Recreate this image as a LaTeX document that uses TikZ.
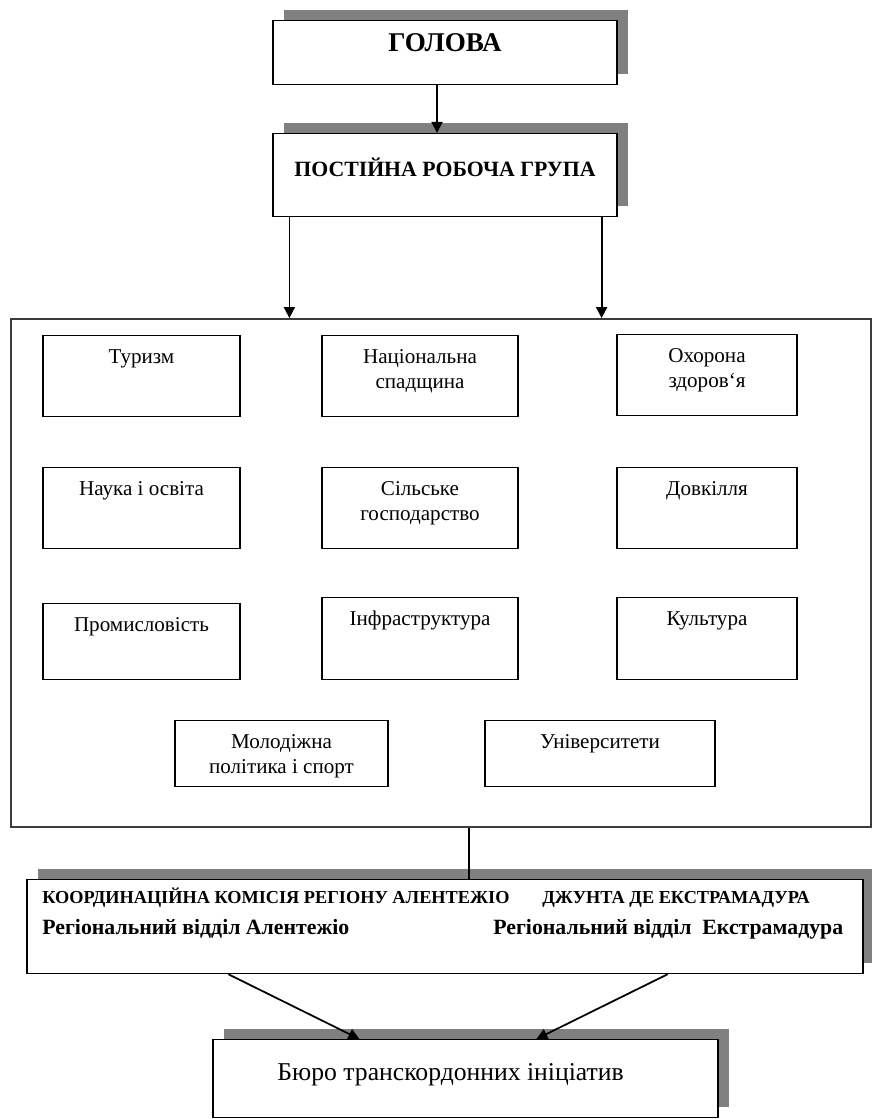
\documentclass[tikz,border=0pt]{standalone}
\usepackage{fontspec}
\setmainfont{Liberation Serif}
\usetikzlibrary{arrows.meta,shadows}
\definecolor{shadegray}{HTML}{808080}
\definecolor{framegray}{HTML}{3C3C3C}
\tikzset{
  head/.style={draw, line width=0.7pt, fill=white, inner sep=0pt, anchor=north,
    minimum width=68.8mm, font=\fontsize{14}{16}\selectfont\bfseries,
    drop shadow={shadow xshift=2.2mm, shadow yshift=2.2mm, fill=shadegray, opacity=1}},
  unit/.style={draw, line width=0.6pt, inner sep=0pt, anchor=north, align=center,
    text height=5.6mm, font=\fontsize{12}{14}\selectfont},
  twolines/.style={text height=10.54mm},
  arr/.style={-{Triangle[length=2.2mm,width=2.2mm]}, line width=1pt},
}
\begin{document}
\begin{tikzpicture}[x=0.2mm, y=-0.2mm]
  \useasboundingbox (0,0) rectangle (872,1119);
  % top of the scheme
  \node[head, text height=6.2mm, text depth=6.6mm, font=\fontsize{15.4}{17}\selectfont\bfseries] (golova) at (445,20) {ГОЛОВА};
  \node[head, text height=8.6mm, text depth=8mm, font=\fontsize{12.4}{15}\selectfont\bfseries] (group) at (445,133) {ПОСТІЙНА РОБОЧА ГРУПА};
  % working groups
  \node[draw=framegray, line width=1pt, minimum width=172mm, minimum height=101.6mm, inner sep=0pt] (panel) at (441,573) {};
  \node[unit, minimum width=39.4mm, text depth=10.6mm] (tourism) at (141.5,335) {Туризм};
  \node[unit, twolines, minimum width=39.2mm, text depth=5.66mm] (heritage) at (420,335) {Національна\\спадщина};
  \node[unit, twolines, minimum width=36mm, text depth=5.66mm] (health) at (707,334) {Охорона\\здоров‘я};
  \node[unit, minimum width=39.4mm, text depth=10.6mm] (science) at (141.5,467) {Наука і освіта};
  \node[unit, twolines, minimum width=39.2mm, text depth=5.66mm] (farming) at (420,467) {Сільське\\господарство};
  \node[unit, minimum width=36mm, text depth=10.6mm] (ecology) at (707,467) {Довкілля};
  \node[unit, minimum width=39.4mm, text depth=9.6mm] (industry) at (141.5,603) {Промисловість};
  \node[unit, minimum width=39.2mm, text depth=10.8mm] (infra) at (420,597) {Інфраструктура};
  \node[unit, minimum width=36mm, text depth=10.8mm] (culture) at (707,597) {Культура};
  \node[unit, twolines, minimum width=42.6mm, text depth=2.66mm] (youth) at (281.5,720) {Молодіжна\\політика і спорт};
  \node[unit, minimum width=46mm, text depth=7.6mm] (univ) at (600,720) {Університети};
  % regional bodies
  \node[head, minimum width=167.2mm, minimum height=18.8mm] (coord) at (445,879) {};
  \node[anchor=base west, inner sep=0pt, font=\fontsize{10.4}{12}\selectfont\bfseries] (alent) at (42,903) {КООРДИНАЦІЙНА КОМІСІЯ РЕГІОНУ АЛЕНТЕЖІО};
  \node[anchor=base west, inner sep=0pt, font=\fontsize{10.4}{12}\selectfont\bfseries] (extre) at (542,903) {ДЖУНТА ДЕ ЕКСТРАМАДУРА};
  \node[anchor=base west, inner sep=0pt, font=\fontsize{12.4}{14}\selectfont\bfseries] (alentdep) at (42,934) {Регіональний відділ Алентежіо};
  \node[anchor=base west, inner sep=0pt, font=\fontsize{12.4}{14}\selectfont\bfseries] (extredep) at (493,934) {Регіональний відділ\ \ Екстрамадура};
  \node[head, minimum width=101mm, text height=8.2mm, text depth=7.4mm, font=\fontsize{14.6}{17}\selectfont] (bureau) at (465.5,1039) {Бюро транскордонних ініціатив\hspace*{17pt}};
  \begin{scope}[arr]
    \draw ([xshift=-1.6mm]golova.south) -- ([xshift=-1.6mm]group.north);
    \draw ([xshift=3.4mm]group.south west) -- ([xshift=3.4mm]group.south west |- panel.north);
    \draw ([xshift=-3.2mm]group.south east) -- ([xshift=-3.2mm]group.south east |- panel.north);
    \draw ([xshift=40.4mm]coord.south west) -- ([xshift=29.4mm]bureau.north west);
    \draw ([xshift=-39.2mm]coord.south east) -- ([xshift=64.8mm]bureau.north west);
  \end{scope}
  \draw[line width=0.6pt] ([xshift=5.6mm]panel.south) -- ([xshift=5.6mm]panel.south |- coord.north);
\end{tikzpicture}
\end{document}
